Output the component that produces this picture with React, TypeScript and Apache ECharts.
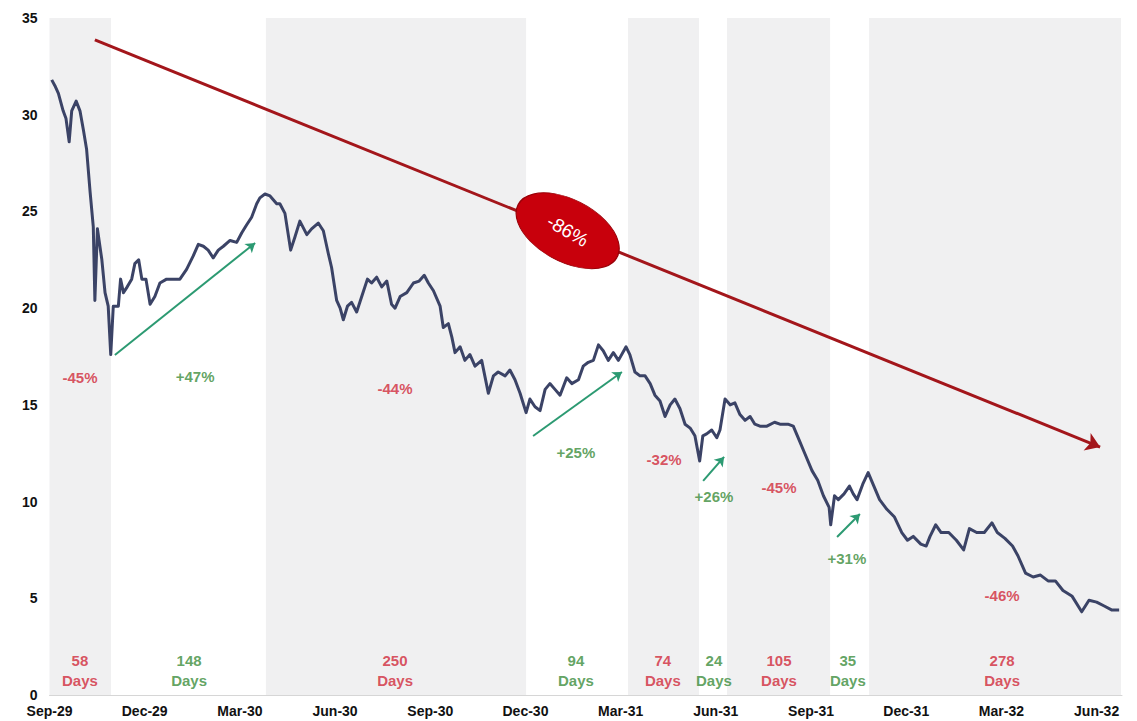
import React, { useEffect, useRef } from 'react';
import * as echarts from 'echarts';

// x values are months elapsed since the start of Sep-1929
const quarterLabels = ['Sep-29', 'Dec-29', 'Mar-30', 'Jun-30', 'Sep-30', 'Dec-30', 'Mar-31', 'Jun-31', 'Sep-31', 'Dec-31', 'Mar-32', 'Jun-32'];

const months = [
  0.07, 0.17, 0.28, 0.43, 0.52, 0.62, 0.70, 0.84, 0.96, 1.07, 1.17, 1.28, 1.38, 1.43, 1.51, 1.65, 1.75, 1.85, 1.93,
  2.01, 2.17, 2.24, 2.33, 2.45, 2.59, 2.69, 2.81, 2.91, 3.04, 3.17, 3.32, 3.48, 3.69, 3.96, 4.11, 4.32, 4.53, 4.69,
  4.85, 5.00, 5.16, 5.32, 5.48, 5.69, 5.90, 6.06, 6.21, 6.37, 6.53, 6.63, 6.79, 6.95, 7.16, 7.26, 7.42, 7.60, 7.74,
  7.89, 8.11, 8.26, 8.47, 8.63, 8.79, 8.89, 9.05, 9.16, 9.26, 9.39, 9.52, 9.68, 9.84, 10.02, 10.15, 10.31, 10.47,
  10.63, 10.78, 10.89, 11.05, 11.26, 11.47, 11.65, 11.81, 11.94, 12.10, 12.31, 12.41, 12.57, 12.68, 12.78, 12.94,
  13.09, 13.25, 13.41, 13.62, 13.83, 13.99, 14.14, 14.36, 14.51, 14.67, 14.83, 15.02, 15.14, 15.30, 15.46, 15.62,
  15.77, 15.93, 16.09, 16.30, 16.46, 16.67, 16.82, 16.98, 17.14, 17.30, 17.45, 17.61, 17.77, 17.93, 18.17, 18.29,
  18.45, 18.61, 18.77, 18.93, 19.08, 19.24, 19.40, 19.56, 19.71, 19.87, 20.03, 20.19, 20.34, 20.49, 20.59, 20.71,
  20.87, 21.03, 21.13, 21.29, 21.45, 21.60, 21.76, 21.92, 22.08, 22.23, 22.39, 22.61, 22.85, 23.02, 23.27, 23.44,
  23.62, 23.80, 24.03, 24.21, 24.39, 24.57, 24.62, 24.74, 24.86, 25.04, 25.21, 25.33, 25.45, 25.63, 25.80, 25.98,
  26.16, 26.39, 26.63, 26.86, 27.04, 27.22, 27.46, 27.63, 27.75, 27.93, 28.10, 28.34, 28.58, 28.81, 28.99, 29.22,
  29.46, 29.70, 29.87, 30.11, 30.35, 30.52, 30.76, 31.00, 31.23, 31.47, 31.70, 31.94, 32.23, 32.53, 32.76, 33.00,
  33.24, 33.47, 33.71,
];

const prices = [
  31.8, 31.5, 31.1, 30.2, 29.8, 28.6, 30.2, 30.7, 30.2, 29.2, 28.2, 26.0, 24.2, 20.4, 24.1, 22.5, 20.8, 20.1, 17.6,
  20.1, 20.1, 21.5, 20.8, 21.1, 21.5, 22.3, 22.5, 21.5, 21.5, 20.2, 20.6, 21.3, 21.5, 21.5, 21.5, 22.0, 22.7, 23.3,
  23.2, 23.0, 22.6, 23.0, 23.2, 23.5, 23.4, 23.9, 24.3, 24.7, 25.4, 25.7, 25.9, 25.8, 25.4, 25.4, 24.9, 23.0, 23.7,
  24.5, 23.8, 24.1, 24.4, 24.0, 22.8, 22.1, 20.4, 20.0, 19.4, 20.1, 20.3, 19.8, 20.6, 21.5, 21.3, 21.6, 21.1,
  21.4, 20.2, 20.0, 20.6, 20.8, 21.3, 21.4, 21.7, 21.3, 20.9, 20.1, 19.0, 19.2, 18.5, 17.7, 18.0,
  17.3, 17.6, 17.0, 17.3, 15.6, 16.5, 16.7, 16.5, 16.8, 16.3, 15.6, 14.6, 15.3, 14.9, 14.7, 15.8,
  16.1, 15.8, 15.5, 16.4, 16.1, 16.3, 17.0, 17.2, 17.3, 18.1, 17.8, 17.3, 17.7, 17.3, 18.0, 17.6,
  16.7, 16.5, 16.5, 16.1, 15.5, 15.2, 14.4, 15.0, 15.3, 14.8, 14.0, 13.8, 13.4, 12.1, 13.4, 13.5,
  13.7, 13.3, 13.7, 15.3, 15.0, 15.1, 14.5, 14.2, 14.4, 14.0, 13.9, 13.9, 14.1, 14.0, 14.0, 13.9,
  13.2, 12.5, 11.6, 11.1, 10.3, 9.7, 8.8, 10.3, 10.1, 10.4, 10.8, 10.4, 10.1, 10.9, 11.5, 10.8,
  10.1, 9.6, 9.2, 8.4, 8.0, 8.2, 7.8, 7.7, 8.2, 8.8, 8.4, 8.4, 8.0, 7.5, 8.6, 8.4,
  8.4, 8.9, 8.4, 8.1, 7.7, 7.2, 6.3, 6.1, 6.2, 5.9, 5.9, 5.4, 5.1, 4.3, 4.9, 4.8,
  4.6, 4.4, 4.4,
];

// Alternating decline / rally periods
const periodStart = [0, 1.94, 6.82, 15.02, 18.23, 20.47, 21.35, 24.6, 25.83];
const periodEnd = [1.94, 6.82, 15.02, 18.23, 20.47, 21.35, 24.6, 25.83, 33.77];
const periodKind = ['down', 'up', 'down', 'up', 'down', 'up', 'down', 'up', 'down'];
const periodDays = ['58', '148', '250', '94', '74', '24', '105', '35', '278'];
const periodChange = ['-45%', '+47%', '-44%', '+25%', '-32%', '+26%', '-45%', '+31%', '-46%'];
const changeLabelX = [0.96, 4.59, 10.89, 16.59, 19.37, 20.94, 22.99, 25.13, 30.02];
const changeLabelY = [16.44, 16.49, 15.87, 12.56, 12.15, 10.24, 10.75, 7.08, 5.12];
const daysLabelX = [0.96, 4.4, 10.89, 16.59, 19.33, 20.94, 22.99, 25.16, 30.02];
const daysLabelY = 1.29;

// Rally arrows (from -> to)
const rallyFrom = [[2.06, 17.58], [15.24, 13.39], [20.6, 11.07], [24.82, 8.17]];
const rallyTo = [[6.48, 23.37], [18.04, 16.7], [21.26, 12.31], [25.54, 9.36]];

// Overall trend arrow and total change
const trendFrom = [1.43, 33.87];
const trendTo = [33.11, 12.82];
const totalChange = '-86%';
const totalChangeAt = [16.33, 24.0];

const RED = '#d12a3a';
const GREEN = '#3a8c3a';

export default function App() {
  const ref = useRef<HTMLDivElement>(null);

  useEffect(() => {
    if (!ref.current) return;
    const chart = echarts.init(ref.current, undefined, { renderer: 'svg' });
    const font = '"Liberation Sans", Arial, sans-serif';

    const markAreaData = periodStart
      .map((s, i) => (periodKind[i] === 'down' ? [{ xAxis: s }, { xAxis: periodEnd[i] }] : null))
      .filter(Boolean);

    const option: any = {
      animation: false,
      backgroundColor: '#ffffff',
      textStyle: { fontFamily: font },
      grid: { left: 49.5, right: 15, top: 18, bottom: 26, containLabel: false },
      xAxis: {
        type: 'value',
        min: 0,
        max: 33.8,
        interval: 3,
        axisLine: { show: true, lineStyle: { color: '#d6d6d6', width: 1 } },
        axisTick: { show: false },
        splitLine: { show: false },
        axisLabel: {
          showMaxLabel: false,
          margin: 9,
          color: '#111',
          fontWeight: 'bold',
          fontSize: 14,
          fontFamily: font,
          formatter: (v: number) => {
            const idx = Math.round(v / 3);
            return Math.abs(v - idx * 3) < 1e-6 && quarterLabels[idx] ? quarterLabels[idx] : '';
          },
        },
      },
      yAxis: {
        type: 'value',
        min: 0,
        max: 35,
        interval: 5,
        axisLine: { show: false },
        axisTick: { show: false },
        splitLine: { show: false },
        axisLabel: { color: '#111', fontWeight: 'bold', fontSize: 14, margin: 12, fontFamily: font },
      },
      series: [
        {
          type: 'line',
          name: 'price',
          data: months.map((m, i) => [m, prices[i]]),
          showSymbol: false,
          symbol: 'none',
          lineStyle: { color: '#3b4366', width: 3, join: 'round' },
          z: 5,
          silent: true,
          markArea: {
            silent: true,
            itemStyle: { color: '#f0f0f1' },
            data: markAreaData,
          },
        },
        {
          type: 'lines',
          coordinateSystem: 'cartesian2d',
          silent: true,
          z: 6,
          symbol: ['none', 'arrow'],
          symbolSize: 14,
          lineStyle: { color: '#a3161b', width: 3, opacity: 1 },
          data: [{ coords: [trendFrom, trendTo] }],
        },
        {
          type: 'lines',
          coordinateSystem: 'cartesian2d',
          silent: true,
          z: 6,
          symbol: ['none', 'arrow'],
          symbolSize: 9,
          lineStyle: { color: '#2c9a72', width: 2, opacity: 1 },
          data: rallyFrom.map((f, i) => ({ coords: [f, rallyTo[i]] })),
        },
        {
          type: 'scatter',
          silent: true,
          z: 8,
          symbol: 'circle',
          symbolSize: [112, 62],
          symbolRotate: -28,
          itemStyle: { color: '#c8000c', borderColor: '#9a0008', borderWidth: 1, opacity: 1 },
          label: {
            show: true,
            position: 'inside',
            formatter: totalChange,
            color: '#ffffff',
            fontSize: 19,
            fontFamily: font,
            rotate: -30,
          },
          data: [totalChangeAt],
        },
        {
          type: 'scatter',
          silent: true,
          z: 9,
          symbolSize: 0,
          data: periodChange.map((t, i) => ({
            value: [changeLabelX[i], changeLabelY[i]],
            name: t,
            label: { color: periodKind[i] === 'down' ? RED : GREEN },
          })),
          label: {
            show: true,
            position: 'inside',
            formatter: (p: any) => p.name,
            fontWeight: 'bold',
            fontSize: 15,
            fontFamily: font,
          },
        },
        {
          type: 'scatter',
          silent: true,
          z: 9,
          symbolSize: 0,
          data: periodDays.map((d, i) => ({
            value: [daysLabelX[i], daysLabelY],
            name: d + '\nDays',
            label: { color: periodKind[i] === 'down' ? RED : GREEN },
          })),
          label: {
            show: true,
            position: 'inside',
            formatter: (p: any) => p.name,
            fontWeight: 'bold',
            fontSize: 15,
            lineHeight: 20,
            align: 'center',
            fontFamily: font,
          },
        },
      ],
    };

    chart.setOption(option);
    return () => chart.dispose();
  }, []);

  return (
    <div
      ref={ref}
      style={{ position: 'fixed', left: 0, top: 0, width: 1137, height: 721, background: '#fff' }}
    />
  );
}
